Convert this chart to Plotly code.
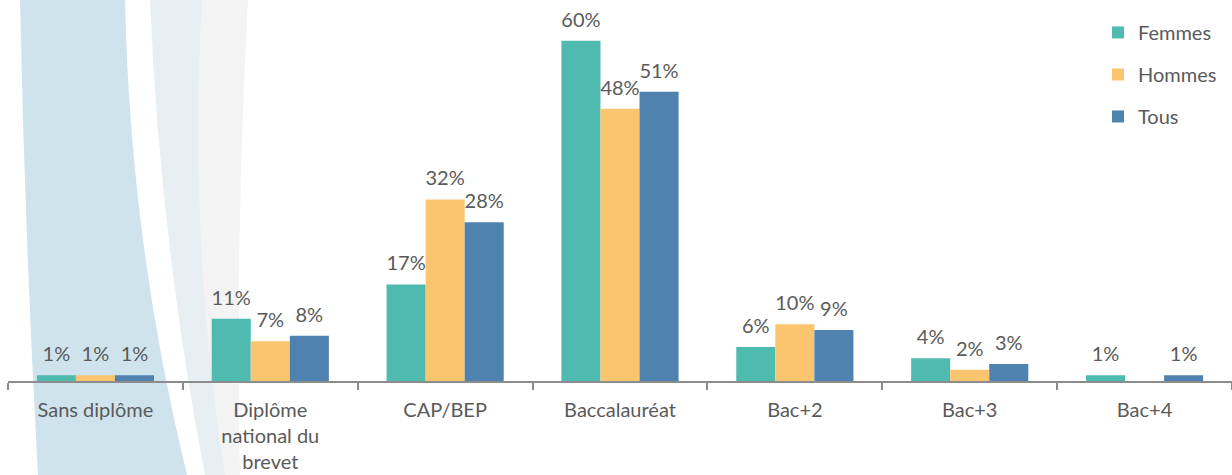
import plotly.graph_objects as go

categories = ["Sans diplôme", "Diplôme<br>national du<br>brevet", "CAP/BEP", "Baccalauréat", "Bac+2", "Bac+3", "Bac+4"]
femmes = [1, 11, 17, 60, 6, 4, 1]
hommes = [1, 7, 32, 48, 10, 2, None]
tous = [1, 8, 28, 51, 9, 3, 1]
series_names = ["Femmes", "Hommes", "Tous"]

W, H = 1232, 475
ML, MR, MT, MB = 8, 0, 0, 94
PW, PH = W - ML - MR, H - MT - MB

def fx(px):
    return (px - ML) / PW

def fy(py):
    return (H - MB - py) / PH

def band(left, right):
    (lx0, ly0), (lcx, lcy), (lx1, ly1) = left
    (rx0, ry0), (rcx, rcy), (rx1, ry1) = right
    return (f"M {fx(lx0)},{fy(ly0)} Q {fx(lcx)},{fy(lcy)} {fx(lx1)},{fy(ly1)} "
            f"L {fx(rx1)},{fy(ry1)} Q {fx(rcx)},{fy(rcy)} {fx(rx0)},{fy(ry0)} Z")

fig = go.Figure()
colors = ["#4fbab0", "#fbc46e", "#4f82ae"]
for name, vals, col in zip(series_names, [femmes, hommes, tous], colors):
    fig.add_trace(go.Bar(
        x=categories, y=vals, name=name, legendgroup=name,
        offsetgroup=name,
        marker=dict(color=col, line=dict(width=0)),
        hoverinfo="skip",
    ))
for name, vals in zip(series_names, [femmes, hommes, tous]):
    fig.add_trace(go.Scatter(
        x=categories, y=vals, name=name, legendgroup=name, showlegend=False,
        offsetgroup=name, mode="markers+text",
        marker=dict(size=13, opacity=0),
        text=[f"{v}%" if v is not None else "" for v in vals],
        textposition="top center", cliponaxis=False, hoverinfo="skip",
        textfont=dict(color="#5a5a5a", size=20, family="Lato"),
    ))

shapes = [
    dict(type="path", xref="paper", yref="paper", layer="below", line=dict(width=0),
         fillcolor="#e7eff3",
         path=band(((150, 0), (160, 242), (205, 475)), ((215, 0), (205, 242), (225, 475)))),
    dict(type="path", xref="paper", yref="paper", layer="below", line=dict(width=0),
         fillcolor="#f3f3f3",
         path=band(((202, 0), (188, 242), (225, 475)), ((248, 0), (235, 242), (240, 475)))),
    dict(type="path", xref="paper", yref="paper", layer="below", line=dict(width=0),
         fillcolor="#cfe3ed",
         path=band(((20, 0), (25, 242), (38, 475)), ((125, 0), (130, 242), (187, 475)))),
]

fig.update_layout(
    width=W, height=H,
    margin=dict(l=ML, r=MR, t=MT, b=MB),
    paper_bgcolor="white", plot_bgcolor="rgba(0,0,0,0)",
    barmode="group", bargap=0.33, bargroupgap=0,
    scattermode="group", scattergap=0.33,
    font=dict(family="Lato", color="#5a5a5a", size=20),
    showlegend=True,
    legend=dict(x=0.8905, y=0.966, xanchor="left", yanchor="top",
                bgcolor="rgba(0,0,0,0)", tracegroupgap=13,
                font=dict(size=20, color="#5a5a5a"), itemwidth=30),
    shapes=shapes,
    xaxis=dict(showline=True, linecolor="#8c8c8c", linewidth=1.5,
               ticks="outside", tickson="boundaries", ticklen=7, tickcolor="#8c8c8c",
               tickwidth=1.5, tickfont=dict(size=20, color="#5a5a5a"),
               ticklabelstandoff=10,
               showgrid=False, zeroline=False),
    yaxis=dict(range=[0, 67.2], visible=False, showgrid=False, zeroline=False),
)

fig.write_html("out.html", config={"displayModeBar": False},
               post_script="document.body.style.margin='0';")
